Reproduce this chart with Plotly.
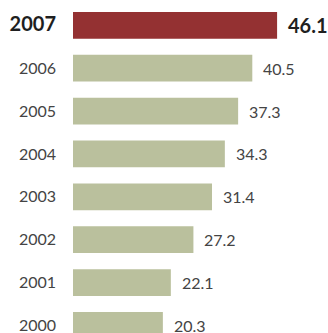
import plotly.graph_objects as go

years = ["2000", "2001", "2002", "2003", "2004", "2005", "2006", "2007"]
values = [20.3, 22.1, 27.2, 31.4, 34.3, 37.3, 40.5, 46.1]
highlight_year = "2007"

bar_green = "#bac09d"
bar_red = "#943132"
text_grey = "#444444"
text_dark = "#1f1f1f"

colors = [bar_red if y == highlight_year else bar_green for y in years]

fig = go.Figure(
    go.Bar(
        x=values,
        y=years,
        orientation="h",
        width=0.623,
        marker=dict(color=colors, line=dict(width=0)),
        hoverinfo="skip",
    )
)

# value labels to the right of each bar (y given as category index)
annotations = []
for i, (y, v) in enumerate(zip(years, values)):
    if y == highlight_year:
        txt = f"<b>{v:.1f}</b>"
        font = dict(family="Lato", size=20, color=text_dark)
    else:
        txt = f"{v:.1f}"
        font = dict(family="Lato", size=16, color=text_grey)
    annotations.append(
        dict(
            x=v, y=i, xref="x", yref="y", text=txt, showarrow=False,
            xanchor="left", yanchor="middle", xshift=9, font=font,
        )
    )

ticktext = [
    f"<span style='font-size:20px;color:{text_dark}'><b>{y}</b></span>" if y == highlight_year else y
    for y in years
]

fig.update_layout(
    width=328,
    height=333,
    margin=dict(l=73, r=0, t=0, b=0),
    paper_bgcolor="white",
    plot_bgcolor="white",
    showlegend=False,
    annotations=annotations,
    xaxis=dict(
        range=[0, 57.6], visible=False, showgrid=False, zeroline=False,
    ),
    yaxis=dict(
        type="category",
        categoryorder="array",
        categoryarray=years,
        range=[-0.177, 7.591],
        tickvals=years,
        ticktext=ticktext,
        tickfont=dict(family="Lato", size=16, color=text_grey),
        ticks="",
        ticklabelstandoff=16,
        showgrid=False,
        zeroline=False,
        showline=False,
    ),
)

fig.write_html("out.html")
